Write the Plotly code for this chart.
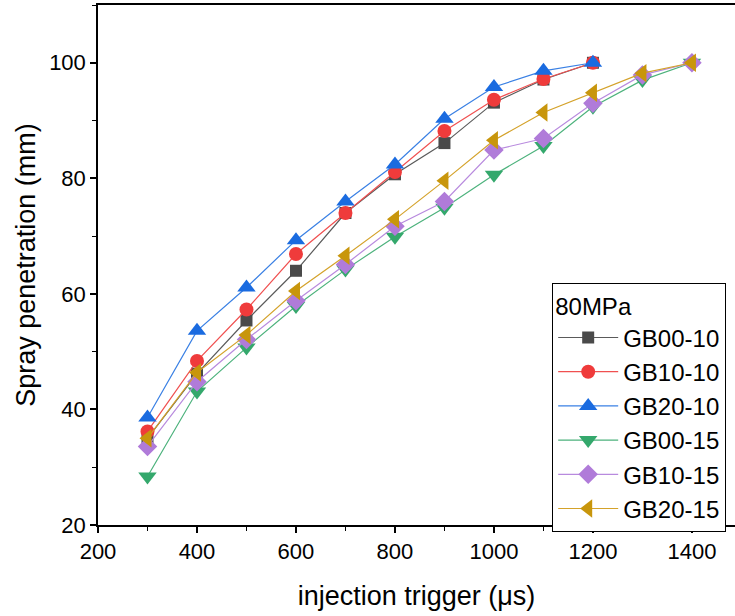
import plotly.graph_objects as go

# Injection trigger times (µs)
trigger_short = [300, 400, 500, 600, 700, 800, 900, 1000, 1100, 1200]
trigger_long = [300, 400, 500, 600, 700, 800, 900, 1000, 1100, 1200, 1300, 1400]

# Spray penetration (mm) at 80 MPa
gb00_10 = [35.0, 46.2, 55.4, 64.0, 74.0, 80.7, 86.1, 93.1, 97.1, 100.0]
gb10_10 = [36.2, 48.4, 57.3, 66.9, 74.0, 81.1, 88.2, 93.6, 97.2, 100.0]
gb20_10 = [38.6, 53.6, 61.1, 69.3, 76.0, 82.4, 90.3, 95.8, 98.6, 100.0]
gb00_15 = [28.4, 43.1, 50.7, 57.9, 64.2, 69.9, 74.9, 80.6, 85.6, 92.4, 97.0, 100.0]
gb10_15 = [33.6, 44.8, 52.1, 58.8, 65.1, 71.7, 76.0, 84.9, 86.9, 93.0, 97.9, 100.0]
gb20_15 = [35.0, 46.4, 52.9, 60.5, 66.6, 72.9, 79.6, 86.6, 91.4, 94.8, 98.2, 100.0]

series = [
    ("GB00-10", trigger_short, gb00_10, "#4a4a4a", "#5a5a5a", "square", 12),
    ("GB10-10", trigger_short, gb10_10, "#ef3b3b", "#f05050", "circle", 14),
    ("GB20-10", trigger_short, gb20_10, "#1a6be0", "#3a80e4", "triangle-up", 16),
    ("GB00-15", trigger_long, gb00_15, "#34a86c", "#4cb27c", "triangle-down", 16),
    ("GB10-15", trigger_long, gb10_15, "#b07bd9", "#b88ade", "diamond", 15),
    ("GB20-15", trigger_long, gb20_15, "#c8960c", "#d4a22a", "triangle-left", 16),
]

fig = go.Figure()
for name, xs, ys, mcolor, lcolor, symbol, size in series:
    fig.add_trace(go.Scatter(
        x=xs, y=ys, name=name, mode="lines+markers",
        line=dict(color=lcolor, width=1.2),
        marker=dict(color=mcolor, symbol=symbol, size=size, line=dict(width=0)),
    ))

base_font = "Liberation Sans, Arial, sans-serif"
tick_font = dict(family=base_font, size=22, color="black")

fig.update_layout(
    width=735, height=616,
    margin=dict(l=98, r=0, t=5, b=91),
    paper_bgcolor="white", plot_bgcolor="white",
    font=dict(family=base_font, color="black"),
    showlegend=True,
    legend=dict(
        title=dict(text="80MPa", font=dict(size=24)),
        font=dict(size=24),
        x=0.713, y=0.465, xanchor="left", yanchor="top",
        bordercolor="black", borderwidth=1, bgcolor="white",
        itemwidth=60,
    ),
)

fig.update_xaxes(
    range=[200, 1487], tickvals=[200, 400, 600, 800, 1000, 1200, 1400],
    ticks="outside", ticklen=6, tickwidth=1.5, tickcolor="black",
    minor=dict(dtick=100, ticks="outside", ticklen=4, tickwidth=1.2, tickcolor="black"),
    showline=True, linecolor="black", linewidth=1.5, mirror=True,
    showgrid=False, zeroline=False, tickfont=tick_font,
    title=dict(text="injection trigger (μs)", font=dict(size=27), standoff=23),
)
fig.update_yaxes(
    range=[20, 110], tickvals=[20, 40, 60, 80, 100],
    ticks="outside", ticklen=6, tickwidth=1.5, tickcolor="black",
    minor=dict(dtick=10, ticks="outside", ticklen=4, tickwidth=1.2, tickcolor="black"),
    showline=True, linecolor="black", linewidth=1.5, mirror=False,
    showgrid=False, zeroline=False, tickfont=tick_font,
    title=dict(text="Spray penetration (mm)", font=dict(size=27), standoff=6),
)

fig.write_html("out.html")
